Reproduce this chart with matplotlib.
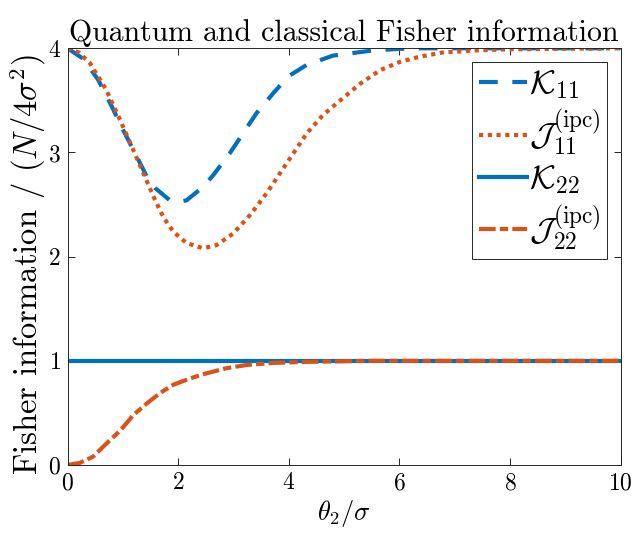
import matplotlib

matplotlib.use("Agg")
import matplotlib.pyplot as plt

# values
theta_k11 = [0, 0.28, 0.55, 0.80, 1.0, 1.25, 1.43, 1.58, 1.85, 2.03, 2.15, 2.45,
             2.63, 2.93, 3.23, 3.42, 3.72, 3.99, 4.32, 4.80, 5.53, 6.2, 10]
k11 = [4.0, 3.90, 3.70, 3.44, 3.22, 2.96, 2.77, 2.66, 2.54, 2.53, 2.54, 2.67,
       2.78, 2.99, 3.23, 3.38, 3.57, 3.73, 3.84, 3.93, 3.98, 4.0, 4.0]

theta_j11 = [0, 0.20, 0.40, 0.70, 0.95, 1.19, 1.37, 1.55, 1.73, 1.91, 2.15, 2.45,
             2.69, 2.99, 3.30, 3.60, 3.84, 4.08, 4.32, 4.62, 4.93, 5.29, 5.65,
             6.01, 6.37, 6.79, 7.39, 7.94, 10]
j11 = [4.0, 3.96, 3.86, 3.60, 3.31, 3.02, 2.80, 2.58, 2.38, 2.24, 2.13, 2.08,
       2.11, 2.22, 2.40, 2.61, 2.80, 2.99, 3.18, 3.36, 3.50, 3.66, 3.79,
       3.87, 3.92, 3.96, 3.98, 3.99, 4.0]

theta_k22 = [0, 10]
k22 = [1.0, 1.0]

theta_j22 = [0, 0.22, 0.46, 0.71, 0.95, 1.19, 1.43, 1.67, 1.91, 2.21, 2.51,
             2.88, 3.24, 3.72, 4.32, 5.47, 10]
j22 = [0.0, 0.02, 0.08, 0.21, 0.33, 0.48, 0.59, 0.69, 0.77, 0.83, 0.88,
       0.93, 0.96, 0.98, 0.99, 1.0, 1.0]

BLUE = "#0072BD"
ORANGE = "#D95319"

plt.rcParams["font.family"] = "cmr10"
plt.rcParams["mathtext.fontset"] = "cm"
plt.rcParams["axes.formatter.use_mathtext"] = True

fig = plt.figure(figsize=(6.32, 5.33), dpi=100)
ax = fig.add_axes([0.107, 0.1276, 0.875, 0.7818])

lw = 3
ax.plot(theta_k11, k11, color=BLUE, lw=lw, dashes=(4.5, 3.5),
        label=r"$\mathcal{K}_{11}$")
ax.plot(theta_j11, j11, color=ORANGE, lw=lw, dashes=(1, 1.1),
        label=r"$\mathcal{J}_{11}^{(\mathrm{ipc})}$")
ax.plot(theta_k22, k22, color=BLUE, lw=lw, label=r"$\mathcal{K}_{22}$")
ax.plot(theta_j22, j22, color=ORANGE, lw=lw, dashes=(4, 1, 2, 1),
        label=r"$\mathcal{J}_{22}^{(\mathrm{ipc})}$")

ax.set_xlim(0, 10)
ax.set_ylim(0, 4)
ax.set_xticks([0, 2, 4, 6, 8, 10])
ax.set_yticks([0, 1, 2, 3, 4])
ax.tick_params(direction="in", top=True, right=True, length=5, width=0.7,
               labelsize=17, colors="#262626", labelcolor="black")
ax.tick_params(axis="x", pad=5)
ax.tick_params(axis="y", pad=5)
for s in ax.spines.values():
    s.set_linewidth(0.7)
    s.set_color("#262626")

ax.set_title("Quantum and classical Fisher information", fontsize=21.5, pad=5)
ax.set_xlabel(r"$\theta_2/\sigma$", fontsize=19, labelpad=3)
ax.set_ylabel(r"Fisher information / $(N/4\sigma^2)$", fontsize=23.5)
ax.yaxis.set_label_coords(-0.036, 0.48)

leg = ax.legend(loc="upper right", fontsize=24, handlelength=1.45,
                handletextpad=0.05, labelspacing=0.2, borderpad=0.2,
                fancybox=False, framealpha=1, edgecolor="#262626",
                borderaxespad=0.4)
leg.get_frame().set_linewidth(0.7)

fig.savefig("out.png", dpi=100)
